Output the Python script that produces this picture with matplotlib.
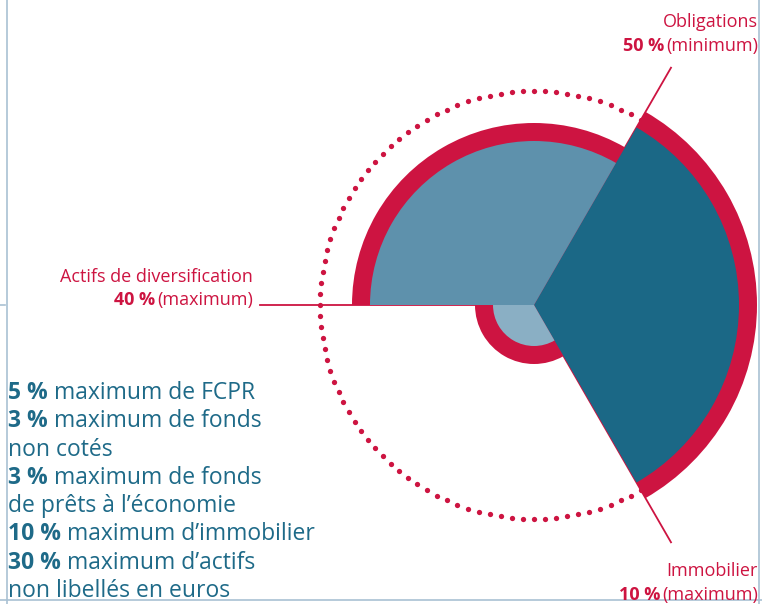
import numpy as np
import matplotlib.pyplot as plt
from matplotlib.patches import Wedge
from matplotlib.lines import Line2D

# Data
categories = ["Obligations", "Actifs de diversification", "Immobilier"]
shares = [50, 40, 10]
share_labels = ["50 %", "40 %", "10 %"]
limits = ["(minimum)", "(maximum)", "(maximum)"]
sector_starts = [-60, 60, 180]  # degrees, each sector spans 120
notes_bold = ["5 %", "3 %", "", "3 %", "", "10 %", "30 %", ""]
notes_text = [" maximum de FCPR", " maximum de fonds", "non cotés",
              " maximum de fonds", "de prêts à l’économie",
              " maximum d’immobilier", " maximum d’actifs",
              "non libellés en euros"]

RED = "#CD1441"
FILLS = ["#1B6886", "#5E91AC", "#8AAFC4"]
TEXT_BLUE = "#1E6A88"
FRAME = "#A9C1D3"

W, H = 762, 604
CX, CY = 534, 305   # center of the chart in pixels
K = 4.1             # pixels per percent point
RING = 18 / K
FONT = "Open Sans"

fig = plt.figure(figsize=(W / 100, H / 100), dpi=100)
ax = fig.add_axes([0, 0, 1, 1])
ax.set_xlim(-CX / K, (W - CX) / K)
ax.set_ylim(-(H - CY) / K, CY / K)
ax.axis("off")

# sectors with a red rim
for v, a0, c in zip(shares, sector_starts, FILLS):
    ax.add_patch(Wedge((0, 0), v + RING, a0, a0 + 120, facecolor=RED, edgecolor="none", zorder=2))
    ax.add_patch(Wedge((0, 0), v, a0, a0 + 120, facecolor=c, edgecolor="none", zorder=3))
    # leader line along the sector end
    t = np.radians(a0 + 120)
    r = 274 / K
    ax.plot([0, r * np.cos(t)], [0, r * np.sin(t)], color=RED, lw=1.3, zorder=1)

# dotted circle
theta = np.radians(np.linspace(60, 300, 81))
rd = 214 / K
ax.plot(rd * np.cos(theta), rd * np.sin(theta), "o", color=RED, ms=3.8, mec="none", zorder=1)

fig.canvas.draw()
renderer = fig.canvas.get_renderer()


def fx(x):
    return x / W


def fy(y):
    return 1 - y / H


# red labels: (right edge x, baseline of name, baseline of value)
label_pos = [(758, 27, 51), (253, 282, 305), (758, 576, 600)]
for name, sl, lim, (xr, y1, y2) in zip(categories, share_labels, limits, label_pos):
    fig.text(fx(xr), fy(y1), name, ha="right", va="baseline", color=RED,
             fontsize=13, family=FONT)
    t = fig.text(fx(xr), fy(y2), lim, ha="right", va="baseline", color=RED,
                 fontsize=13, family=FONT)
    bb = t.get_window_extent(renderer)
    fig.text((bb.x0 - 2) / W, fy(y2), sl, ha="right", va="baseline", color=RED,
             fontsize=13, family=FONT, weight="bold")

# notes on the left
y = 399
for b, s in zip(notes_bold, notes_text):
    x = 8
    if b:
        t = fig.text(fx(x), fy(y), b, ha="left", va="baseline", color=TEXT_BLUE,
                     fontsize=16.5, family=FONT, weight="bold")
        x = t.get_window_extent(renderer).x1
    fig.text(fx(x), fy(y), s, ha="left", va="baseline", color=TEXT_BLUE,
             fontsize=16.5, family=FONT)
    y += 28.3

# frame lines
fig.add_artist(Line2D([fx(7), fx(7)], [0, 1], color=FRAME, lw=1.2))
fig.add_artist(Line2D([fx(759), fx(759)], [0, 1], color=FRAME, lw=1.2))
fig.add_artist(Line2D([0, 1], [fy(600), fy(600)], color=FRAME, lw=1.2))
fig.add_artist(Line2D([0, fx(5)], [fy(305), fy(305)], color=FRAME, lw=1.2))

fig.savefig("out.png", dpi=100)
